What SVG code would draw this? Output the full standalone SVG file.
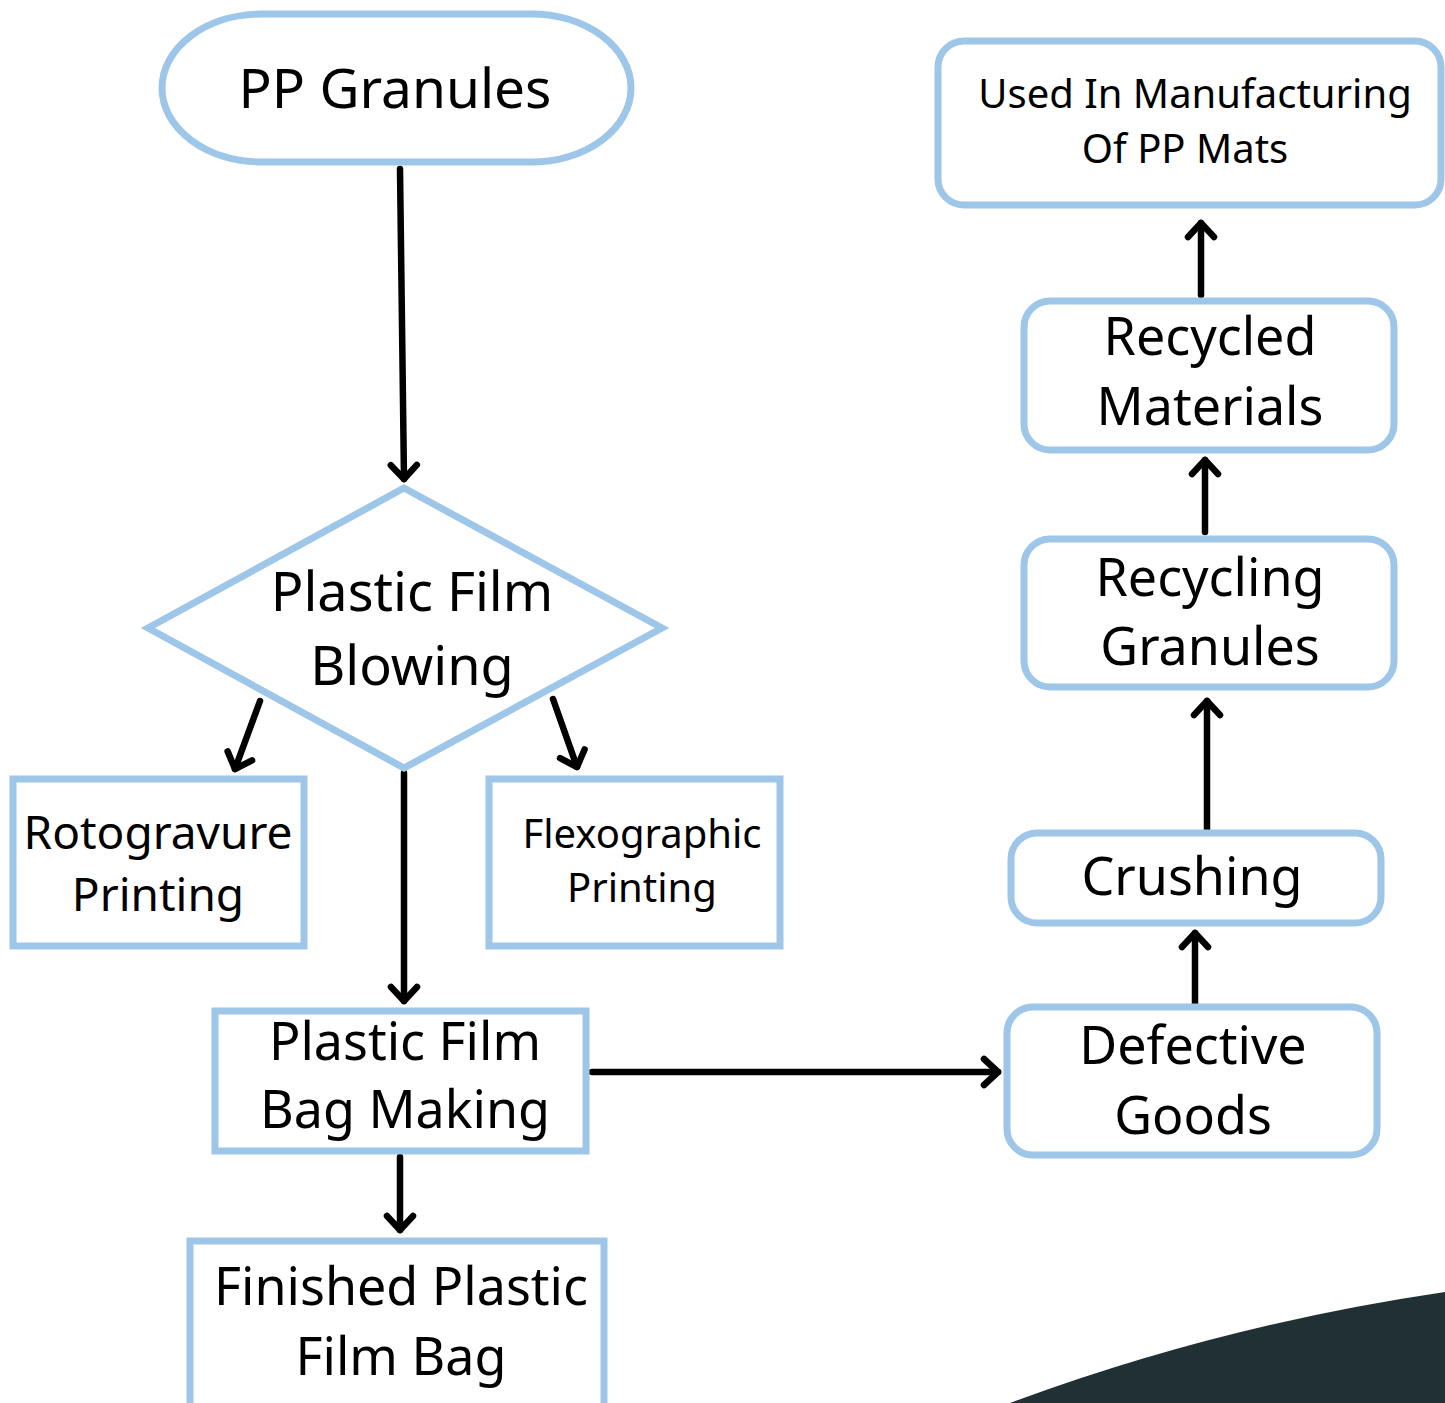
<svg xmlns="http://www.w3.org/2000/svg" width="1445" height="1403" viewBox="0 0 1445 1403">
<style>
.n{fill:#fff;stroke:#9dc6e8;stroke-width:7}
.t{font-family:"Noto Sans","Open Sans",sans-serif;fill:#000;text-anchor:middle}
.c{stroke:#000;stroke-width:6.5;fill:none;stroke-linecap:round}
</style>
<defs>
<marker id="ah" markerUnits="userSpaceOnUse" markerWidth="40" markerHeight="40" viewBox="-20 -20 40 40" refX="0" refY="0" orient="auto" overflow="visible">
<path d="M-14 -13 L0 0 L-14 13" fill="none" stroke="#000" stroke-width="6.5" stroke-linecap="round" stroke-linejoin="round"/>
</marker>
</defs>
<rect width="1445" height="1403" fill="#fff"/>
<path d="M1010 1403 Q1220 1325 1445 1292 L1445 1403 Z" fill="#213035"/>
<g id="connectors">
<path class="c" d="M400 169 L404 479" marker-end="url(#ah)"/>
<path class="c" d="M260 701 L235 769" marker-end="url(#ah)"/>
<path class="c" d="M553 699 L577 767" marker-end="url(#ah)"/>
<path class="c" d="M404 773 L404 1001" marker-end="url(#ah)"/>
<path class="c" d="M400 1157 L400 1230" marker-end="url(#ah)"/>
<path class="c" d="M592 1072 L998 1072" marker-end="url(#ah)"/>
<path class="c" d="M1195 1004 L1195 933" marker-end="url(#ah)"/>
<path class="c" d="M1207 829 L1207 701" marker-end="url(#ah)"/>
<path class="c" d="M1205 532 L1205 460" marker-end="url(#ah)"/>
<path class="c" d="M1201 295 L1201 223" marker-end="url(#ah)"/>
</g>
<g id="pp-granules">
<rect class="n" x="162" y="14" width="469" height="148" rx="100" ry="74"/>
<text class="t" x="395" y="108" font-size="55">PP Granules</text>
</g>
<g id="film-blowing">
<polygon class="n" points="404,488 662,628 404,768 148,628"/>
<text class="t" x="412" y="611" font-size="54">Plastic Film</text>
<text class="t" x="412" y="685" font-size="54">Blowing</text>
</g>
<g id="rotogravure">
<rect class="n" x="13" y="779" width="291" height="167"/>
<text class="t" x="158" y="849" font-size="46">Rotogravure</text>
<text class="t" x="158" y="911" font-size="46">Printing</text>
</g>
<g id="flexographic">
<rect class="n" x="489" y="779" width="291" height="167"/>
<text class="t" x="642" y="848" font-size="40">Flexographic</text>
<text class="t" x="642" y="902" font-size="40">Printing</text>
</g>
<g id="bag-making">
<rect class="n" x="215" y="1011" width="371" height="140"/>
<text class="t" x="405" y="1060" font-size="52">Plastic Film</text>
<text class="t" x="405" y="1128" font-size="52">Bag Making</text>
</g>
<g id="finished">
<rect class="n" x="190" y="1241" width="414" height="175"/>
<text class="t" x="401" y="1305" font-size="52">Finished Plastic</text>
<text class="t" x="401" y="1375" font-size="52">Film Bag</text>
</g>
<g id="defective">
<rect class="n" x="1007" y="1007" width="370" height="148" rx="26"/>
<text class="t" x="1193" y="1064" font-size="52">Defective</text>
<text class="t" x="1193" y="1134" font-size="52">Goods</text>
</g>
<g id="crushing">
<rect class="n" x="1011" y="833" width="370" height="90" rx="26"/>
<text class="t" x="1192" y="895" font-size="52">Crushing</text>
</g>
<g id="recycling-granules">
<rect class="n" x="1024" y="539" width="370" height="148" rx="26"/>
<text class="t" x="1210" y="596" font-size="52">Recycling</text>
<text class="t" x="1210" y="665" font-size="52">Granules</text>
</g>
<g id="recycled-materials">
<rect class="n" x="1024" y="301" width="370" height="149" rx="26"/>
<text class="t" x="1210" y="355" font-size="52">Recycled</text>
<text class="t" x="1210" y="425" font-size="52">Materials</text>
</g>
<g id="used-in-manufacturing">
<rect class="n" x="938" y="41" width="503" height="164" rx="26"/>
<text class="t" x="1195" y="108" font-size="40">Used In Manufacturing</text>
<text class="t" x="1185" y="163" font-size="40">Of PP Mats</text>
</g>
</svg>
